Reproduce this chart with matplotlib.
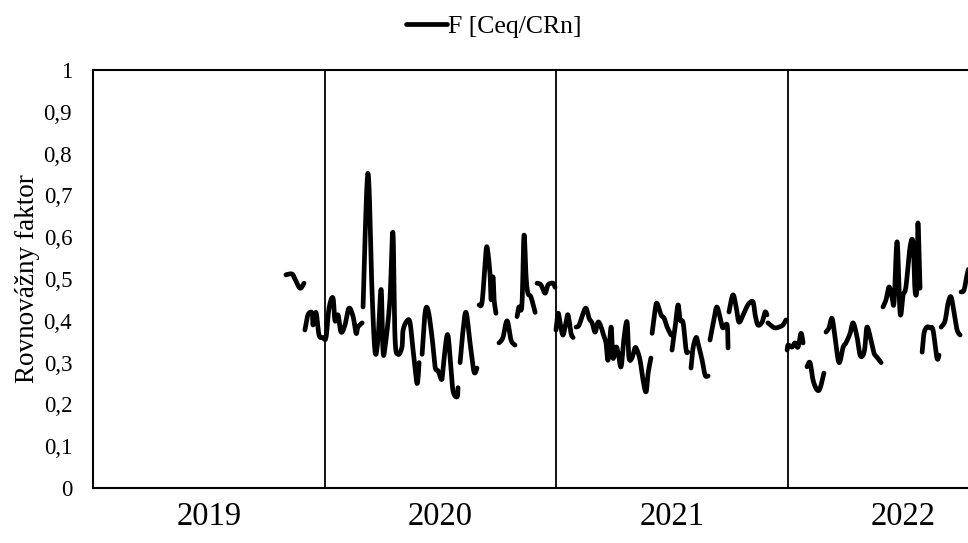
import numpy as np
import matplotlib
matplotlib.use("Agg")
import matplotlib.pyplot as plt

nan = np.nan

# Decimal-year positions and equilibrium factor values (NaN = gap in measurements)
t2019 = [2019.833, 2019.859, 2019.872, 2019.894, 2019.911, nan,
         2019.915, 2019.928, 2019.946, 2019.950, 2019.963, 2019.976, 2019.993]
f2019 = [0.51, 0.512, 0.50, 0.478, 0.49, nan,
         0.378, 0.414, 0.419, 0.39, 0.42, 0.366, 0.36]

t2020 = [2020.006, 2020.019, 2020.036, 2020.045, 2020.058, 2020.071, 2020.088, 2020.105,
         2020.123, 2020.136, 2020.144, 2020.162, nan,
         2020.166, 2020.187, 2020.205, 2020.218, 2020.231, 2020.244, 2020.252, 2020.261,
         2020.282, 2020.295, 2020.304, 2020.317, 2020.334, 2020.339, 2020.356, 2020.369,
         2020.382, 2020.399, 2020.408, nan,
         2020.421, 2020.434, 2020.447, 2020.464, 2020.477, 2020.490, 2020.503, nan,
         2020.507, 2020.529, 2020.542, 2020.554, 2020.572, 2020.576, nan,
         2020.585, 2020.598, 2020.611, 2020.628, 2020.645, 2020.658, nan,
         2020.667, 2020.680, 2020.693, 2020.701, 2020.714, 2020.719, 2020.727, 2020.732,
         2020.740, nan,
         2020.753, 2020.770, 2020.788, 2020.805, 2020.822, nan,
         2020.831, 2020.839, 2020.852, 2020.861, 2020.870, 2020.878, 2020.891, 2020.909, nan,
         2020.917, 2020.934, 2020.952, 2020.965, 2020.986, 2020.995, nan]
f2020 = [0.36, 0.43, 0.455, 0.40, 0.414, 0.373, 0.39, 0.43,
         0.41, 0.37, 0.385, 0.395, nan,
         0.433, 0.753, 0.466, 0.325, 0.36, 0.475, 0.33, 0.337,
         0.45, 0.612, 0.36, 0.32, 0.337, 0.378, 0.40, 0.395,
         0.33, 0.25, 0.30, nan,
         0.32, 0.42, 0.425, 0.36, 0.29, 0.28, 0.26, nan,
         0.26, 0.366, 0.313, 0.234, 0.218, 0.24, nan,
         0.30, 0.378, 0.42, 0.347, 0.278, 0.287, nan,
         0.438, 0.445, 0.538, 0.577, 0.514, 0.45, 0.505, 0.45,
         0.418, nan,
         0.347, 0.36, 0.40, 0.354, 0.342, nan,
         0.41, 0.433, 0.438, 0.605, 0.505, 0.466, 0.457, 0.42, nan,
         0.49, 0.486, 0.466, 0.486, 0.49, 0.48, nan]

t2021 = [2020.999, 2021.008, 2021.017, 2021.029, 2021.042, 2021.051, 2021.064, 2021.073, nan,
         2021.086, 2021.099, 2021.116, 2021.129, 2021.142, 2021.155, 2021.168, 2021.181,
         2021.194, 2021.202, 2021.215, 2021.224, 2021.237, 2021.245, 2021.258, 2021.267,
         2021.280, 2021.293, 2021.306, 2021.314, 2021.327, 2021.340, 2021.349, 2021.362,
         2021.375, 2021.388, 2021.397, 2021.409, nan,
         2021.414, 2021.427, 2021.435, 2021.453, 2021.466, 2021.479, 2021.496, nan,
         2021.500, 2021.513, 2021.526, 2021.535, 2021.548, 2021.561, 2021.569, nan,
         2021.582, 2021.591, 2021.604, 2021.612, 2021.630, 2021.643, 2021.656, nan,
         2021.664, 2021.681, 2021.694, 2021.712, 2021.720, 2021.738, 2021.742, nan,
         2021.746, 2021.763, 2021.777, 2021.789, 2021.807, 2021.820, 2021.833, 2021.850,
         2021.859, 2021.871, 2021.889, 2021.902, 2021.910, nan,
         2021.914, 2021.936, 2021.949, 2021.962, 2021.979, 2021.992, nan]
f2021 = [0.378, 0.418, 0.395, 0.366, 0.395, 0.414, 0.37, 0.36, nan,
         0.385, 0.39, 0.418, 0.43, 0.406, 0.395, 0.373, 0.397,
         0.385, 0.37, 0.347, 0.306, 0.385, 0.311, 0.337, 0.325,
         0.29, 0.36, 0.397, 0.313, 0.311, 0.335, 0.33, 0.306,
         0.258, 0.23, 0.275, 0.311, nan,
         0.37, 0.426, 0.442, 0.414, 0.406, 0.385, 0.366, nan,
         0.33, 0.383, 0.438, 0.402, 0.395, 0.33, 0.325, nan,
         0.287, 0.335, 0.36, 0.347, 0.306, 0.27, 0.268, nan,
         0.354, 0.402, 0.433, 0.397, 0.383, 0.39, 0.335, nan,
         0.421, 0.462, 0.433, 0.397, 0.414, 0.43, 0.442, 0.445,
         0.414, 0.39, 0.397, 0.421, 0.414, nan,
         0.395, 0.385, 0.383, 0.385, 0.39, 0.402, nan]

t2022 = [2021.997, 2022.001, 2022.018, 2022.031, 2022.044, 2022.057, 2022.066, nan,
         2022.083, 2022.096, 2022.109, 2022.126, 2022.139, 2022.156, nan,
         2022.165, 2022.178, 2022.191, 2022.204, 2022.221, 2022.239, 2022.251, 2022.269,
         2022.282, 2022.299, 2022.312, 2022.325, 2022.333, 2022.342, 2022.359, 2022.372,
         2022.385, 2022.403, nan,
         2022.411, 2022.424, 2022.437, 2022.450, 2022.459, 2022.472, 2022.485, 2022.498,
         2022.510, 2022.528, 2022.541, 2022.549, 2022.558, 2022.562, 2022.571, nan,
         2022.580, 2022.588, 2022.601, 2022.614, 2022.627, 2022.644, 2022.653, nan,
         2022.662, 2022.679, 2022.692, 2022.705, 2022.718, 2022.731, 2022.744, nan,
         2022.748, 2022.761, 2022.774, 2022.787]
f2022 = [0.33, 0.342, 0.337, 0.347, 0.337, 0.37, 0.347, nan,
         0.29, 0.30, 0.258, 0.235, 0.238, 0.275, nan,
         0.373, 0.383, 0.406, 0.361, 0.30, 0.337, 0.347, 0.37,
         0.395, 0.361, 0.318, 0.318, 0.337, 0.385, 0.354, 0.323,
         0.313, 0.30, nan,
         0.433, 0.45, 0.481, 0.457, 0.445, 0.589, 0.418, 0.462,
         0.481, 0.577, 0.586, 0.474, 0.481, 0.634, 0.478, nan,
         0.325, 0.37, 0.385, 0.383, 0.378, 0.311, 0.318, nan,
         0.385, 0.40, 0.442, 0.457, 0.418, 0.378, 0.366, nan,
         0.469, 0.474, 0.51, 0.54]

years = [2019, 2020, 2021, 2022]
year_labels = ["2019", "2020", "2021", "2022"]
y_ticks = [0, 0.1, 0.2, 0.3, 0.4, 0.5, 0.6, 0.7, 0.8, 0.9, 1.0]
y_tick_labels = ["0", "0,1", "0,2", "0,3", "0,4", "0,5", "0,6", "0,7", "0,8", "0,9", "1"]


def smooth_segments(x, y, n=8):
    """Excel-style smoothed line: Catmull-Rom curve through each run of points."""
    out_x, out_y = [], []
    isn = np.isnan(x) | np.isnan(y)
    idx = np.where(~isn)[0]
    if len(idx) == 0:
        return np.array([]), np.array([])
    runs = np.split(idx, np.where(np.diff(idx) != 1)[0] + 1)
    for r in runs:
        px, py = x[r], y[r]
        if len(px) < 3:
            out_x += list(px) + [nan]
            out_y += list(py) + [nan]
            continue
        ex = np.concatenate([[px[0]], px, [px[-1]]])
        ey = np.concatenate([[py[0]], py, [py[-1]]])
        for i in range(1, len(ex) - 2):
            p0x, p1x, p2x, p3x = ex[i - 1], ex[i], ex[i + 1], ex[i + 2]
            p0y, p1y, p2y, p3y = ey[i - 1], ey[i], ey[i + 1], ey[i + 2]
            c1x, c1y = p1x + (p2x - p0x) / 6, p1y + (p2y - p0y) / 6
            c2x, c2y = p2x - (p3x - p1x) / 6, p2y - (p3y - p1y) / 6
            s = np.linspace(0, 1, n, endpoint=False)
            bx = (1 - s) ** 3 * p1x + 3 * (1 - s) ** 2 * s * c1x + 3 * (1 - s) * s ** 2 * c2x + s ** 3 * p2x
            by = (1 - s) ** 3 * p1y + 3 * (1 - s) ** 2 * s * c1y + 3 * (1 - s) * s ** 2 * c2y + s ** 3 * p2y
            out_x += list(bx)
            out_y += list(by)
        out_x += [px[-1], nan]
        out_y += [py[-1], nan]
    return np.array(out_x), np.array(out_y)


plt.rcParams["font.family"] = ["Liberation Serif", "DejaVu Serif"]

fig = plt.figure(figsize=(9.68, 5.43), dpi=100)
ax = fig.add_axes([93 / 968, 55 / 543, 875 / 968, 418 / 543])

t = np.array(t2019 + t2020 + t2021 + t2022, dtype=float)
f = np.array(f2019 + f2020 + f2021 + f2022, dtype=float)
sx, sy = smooth_segments(t, f)

ax.plot(sx, sy, color="black", lw=3.4, solid_capstyle="round",
        solid_joinstyle="round", label="F [Ceq/CRn]", zorder=3)

for yr in years[1:]:
    ax.axvline(yr, color="black", lw=1.3, zorder=2)

ax.set_xlim(2019, 2019 + 875 / 231.6)
ax.set_ylim(0, 1)

ax.set_xticks([y + 0.5 for y in years])
ax.set_xticklabels(year_labels, fontsize=23.5)
ax.set_yticks(y_ticks)
ax.set_yticklabels(y_tick_labels, fontsize=16.5)
ax.tick_params(axis="both", length=0)
ax.tick_params(axis="x", pad=10)
ax.tick_params(axis="y", pad=15)

ax.spines["right"].set_visible(False)
for s in ["left", "bottom", "top"]:
    ax.spines[s].set_linewidth(1.5)

ax.set_ylabel("Rovnovážny faktor", fontsize=19.5)
ax.yaxis.set_label_coords(-0.060, 0.5)

fig.legend(loc="upper center", bbox_to_anchor=(0.51, 1.015), frameon=False,
           fontsize=18.5, handlelength=1.6, handletextpad=0.05)

fig.savefig("out.png", dpi=100)
